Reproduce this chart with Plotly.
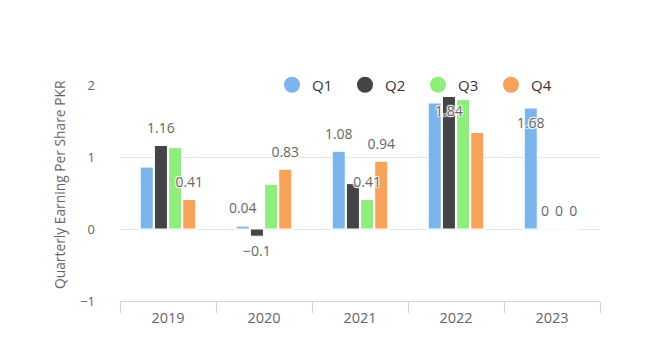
import plotly.graph_objects as go

years = ["2019", "2020", "2021", "2022", "2023"]
quarters = ["Q1", "Q2", "Q3", "Q4"]
colors = ["#7cb5ec", "#434348", "#90ed7d", "#f7a35c"]

q1 = [0.86, 0.04, 1.08, 1.75, 1.68]
q2 = [1.16, -0.10, 0.63, 1.84, 0.0]
q3 = [1.13, 0.62, 0.41, 1.80, 0.0]
q4 = [0.41, 0.83, 0.94, 1.34, 0.0]
series = [q1, q2, q3, q4]

# which data labels are visible in the original (others hidden by overlap)
shown_q1 = [False, True, True, False, True]
shown_q2 = [True, True, False, True, True]
shown_q3 = [False, False, True, False, True]
shown_q4 = [True, True, True, False, True]
shown = [shown_q1, shown_q2, shown_q3, shown_q4]

# labels placed below the point (negative values, or labels pushed inside the bar)
below_q1 = [False, False, False, True, True]
below_q2 = [False, True, False, True, False]
below_q3 = [False, False, False, True, False]
below_q4 = [False, False, False, False, False]
below = [below_q1, below_q2, below_q3, below_q4]

FONT = "Open Sans"
BARGAP = 0.41


def fmt(v):
    s = f"{v:g}"
    return s.replace("-", "\u2212")


fig = go.Figure()

for name, vals, col in zip(quarters, series, colors):
    fig.add_trace(go.Bar(
        x=years, y=vals, name=name, showlegend=False,
        marker=dict(color=col, line=dict(color="white", width=1)),
        hoverinfo="skip",
    ))

for name, vals, shw, blw in zip(quarters, series, shown, below):
    fig.add_trace(go.Scatter(
        x=years, y=vals, mode="markers+text", showlegend=False,
        text=[fmt(v) if s else "" for v, s in zip(vals, shw)],
        textposition=["bottom center" if b else "top center" for b in blw],
        marker=dict(size=13, opacity=0),
        textfont=dict(family=FONT, size=14, color="#666666",
                      shadow="1px 1px 1px #fff, -1px -1px 1px #fff, 1px -1px 1px #fff, -1px 1px 1px #fff"),
        cliponaxis=False, hoverinfo="skip",
    ))

for name, col in zip(quarters, colors):
    fig.add_trace(go.Scatter(
        x=[None], y=[None], mode="markers", name=name,
        marker=dict(color=col, size=16, symbol="circle"),
        xaxis="x2", yaxis="y2", hoverinfo="skip",
    ))

fig.update_layout(
    width=651, height=360,
    margin=dict(l=120, r=51, t=85, b=59),
    paper_bgcolor="white", plot_bgcolor="white",
    font=dict(family=FONT, color="#666666"),
    barmode="group", bargap=BARGAP, bargroupgap=0.08,
    scattermode="group", scattergap=BARGAP,
    showlegend=True,
    legend=dict(
        orientation="h", x=(272 - 120) / 480, xanchor="left",
        y=1.0, yanchor="middle", bgcolor="rgba(0,0,0,0)",
        font=dict(family=FONT, size=15, color="#333333"),
        entrywidth=28, entrywidthmode="pixels",
    ),
    xaxis=dict(
        type="category", showline=True, linecolor="#ccd6eb", linewidth=1,
        ticks="outside", ticklen=11, tickcolor="#ccd6eb", tickson="boundaries",
        showgrid=False, zeroline=False, automargin=False,
        tickfont=dict(family=FONT, size=14.5, color="#666666"),
        ticklabelstandoff=4, fixedrange=True,
    ),
    yaxis=dict(
        range=[-1, 2], dtick=1, showgrid=True, gridcolor="#e6e6e6", gridwidth=1,
        zeroline=False, showline=False, ticks="", automargin=False,
        tickfont=dict(family=FONT, size=13, color="#666666"),
        ticklabelstandoff=24, fixedrange=True,
    ),
    xaxis2=dict(overlaying="x", visible=False),
    yaxis2=dict(overlaying="y", visible=False),
    annotations=[dict(
        text="Quarterly Earning Per Share PKR", textangle=-90,
        xref="paper", yref="paper", x=0, y=0.5, xanchor="center", yanchor="middle",
        xshift=-60.5, yshift=8.5, showarrow=False,
        font=dict(family=FONT, size=13.8, color="#666666"),
    )],
)

fig.write_html("out.html", config={"displayModeBar": False},
               post_script="document.body.style.margin='0';")
